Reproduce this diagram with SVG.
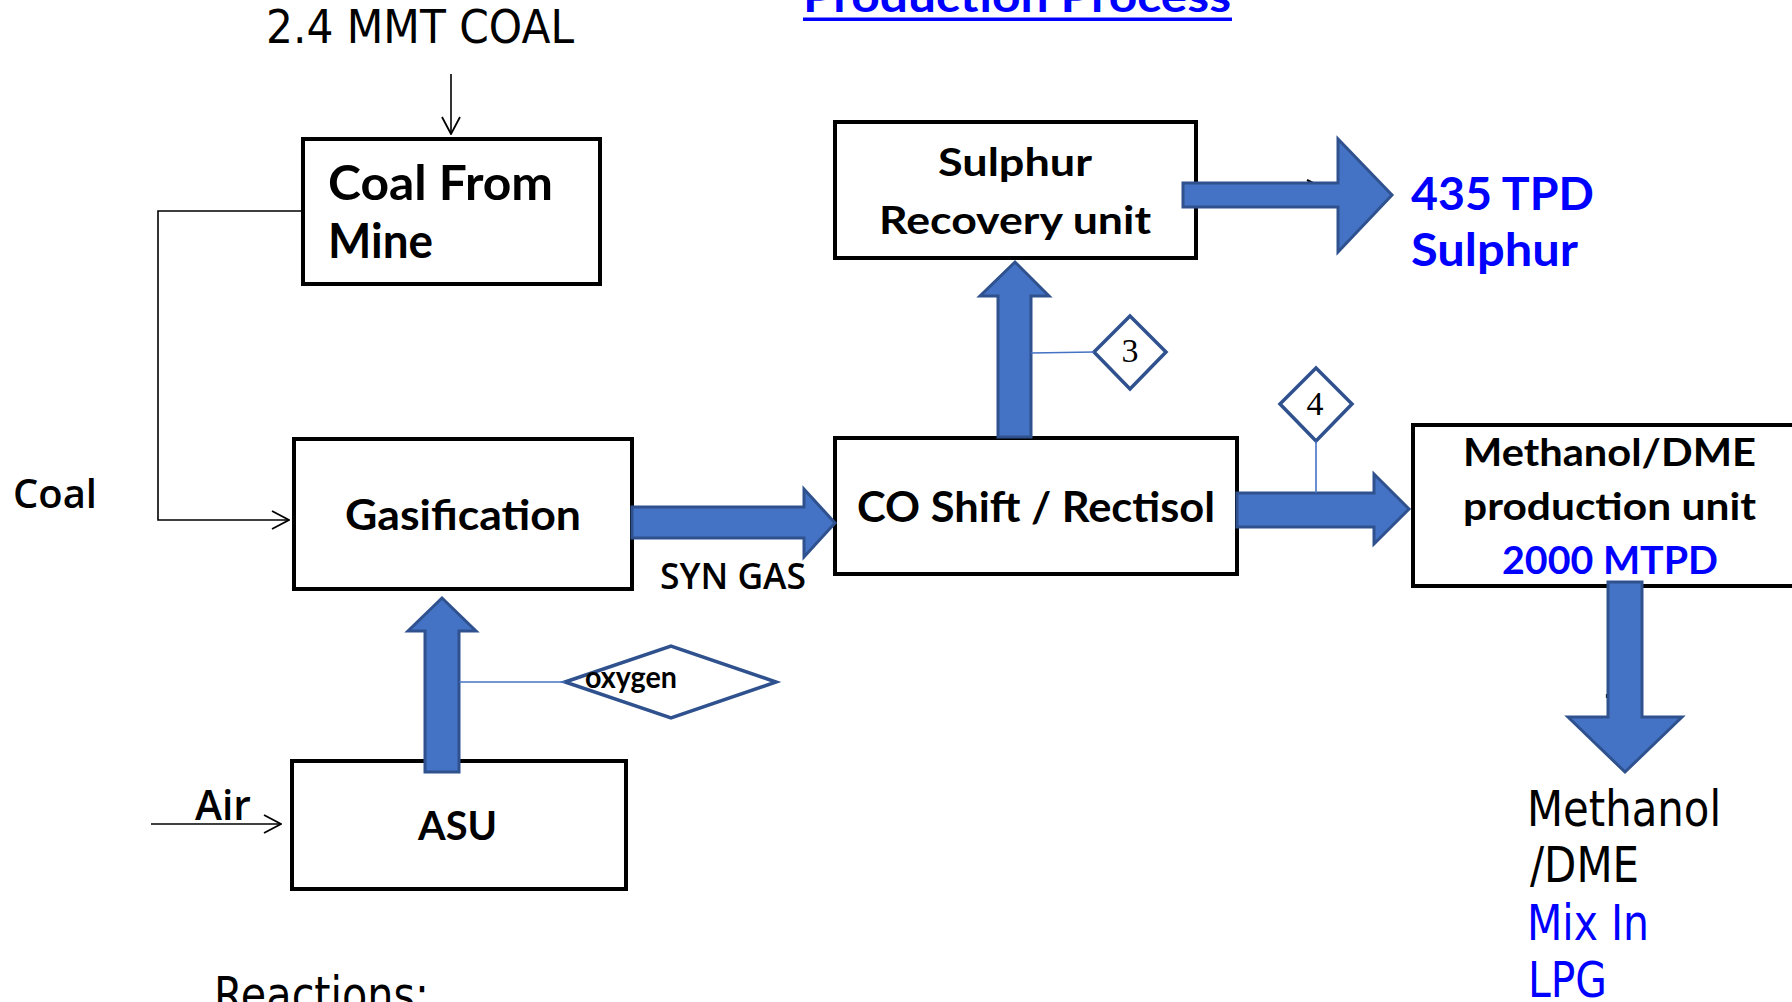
<svg xmlns="http://www.w3.org/2000/svg" width="1792" height="1002" viewBox="0 0 1792 1002">
<defs>
<style>
.box{fill:#fff;stroke:#000;stroke-width:4}
.b{font-family:Lato,"Open Sans","Liberation Sans",sans-serif;font-weight:700;fill:#000}
.r{font-family:"Open Sans",Lato,"Liberation Sans",sans-serif;font-weight:600;fill:#000}
.t{font-family:"DejaVu Sans","Liberation Sans",sans-serif;font-weight:400;fill:#000}
.blue{fill:#0000FF}
.num{font-family:"Liberation Serif",serif;font-size:34px;fill:#000;text-anchor:middle}
.blk{fill:#4472C4;stroke:#2F528F;stroke-width:3;stroke-linejoin:miter}
.dia{fill:#fff;stroke:#2F528F;stroke-width:3.5}
.thin{fill:none;stroke:#000;stroke-width:1.6}
.lead{fill:none;stroke:#4472C4;stroke-width:1.6}
.tick{fill:none;stroke:#000;stroke-width:2.2}
</style>
<marker id="open" viewBox="0 0 20 20" refX="19" refY="10" markerWidth="20" markerHeight="20" markerUnits="userSpaceOnUse" orient="auto">
<path d="M2 1 L19 10 L2 19" fill="none" stroke="#000" stroke-width="1.8"/>
</marker>
</defs>
<rect width="1792" height="1002" fill="#fff"/>

<g id="title">
<text class="b blue" x="803" y="12" font-size="44" textLength="428" lengthAdjust="spacingAndGlyphs">Production Process</text>
<rect x="803" y="17.5" width="429" height="3.5" fill="#0000FF"/>
</g>

<g id="coal-input-label">
<text class="t" x="266" y="43" font-size="46" textLength="308" lengthAdjust="spacingAndGlyphs">2.4 MMT COAL</text>
</g>

<g id="coal-from-mine">
<rect class="box" x="303" y="139" width="297" height="145"/>
<text class="b" x="328" y="200" font-size="48" textLength="225" lengthAdjust="spacingAndGlyphs">Coal From</text>
<text class="b" x="328" y="258" font-size="48" textLength="105" lengthAdjust="spacingAndGlyphs">Mine</text>
</g>

<g id="coal-label">
<text class="r" x="13" y="508" font-size="40" textLength="84" lengthAdjust="spacingAndGlyphs">Coal</text>
</g>

<g id="gasification">
<rect class="box" x="294" y="439" width="338" height="150"/>
<text class="b" x="345" y="530" font-size="42" textLength="236" lengthAdjust="spacingAndGlyphs">Gasification</text>
</g>

<g id="syn-gas-label">
<text class="r" x="660" y="589" font-size="36" textLength="146" lengthAdjust="spacingAndGlyphs">SYN GAS</text>
</g>

<g id="asu">
<rect class="box" x="292" y="761" width="334" height="128"/>
<text class="b" x="418" y="840" font-size="40" textLength="79" lengthAdjust="spacingAndGlyphs">ASU</text>
</g>

<g id="air-label">
<text class="r" x="195" y="820" font-size="41" textLength="56" lengthAdjust="spacingAndGlyphs">Air</text>
</g>

<g id="oxygen">
<polygon class="dia" points="565,682 671,646 776,682 671,718" stroke-width="4"/>
<text class="b" x="585" y="688" font-size="30" textLength="92" lengthAdjust="spacingAndGlyphs">oxygen</text>
</g>

<g id="co-shift">
<rect class="box" x="835" y="438" width="402" height="136"/>
<text class="b" x="857" y="522" font-size="42" textLength="358" lengthAdjust="spacingAndGlyphs">CO Shift / Rectisol</text>
</g>

<g id="sulphur-recovery">
<rect class="box" x="835" y="122" width="361" height="136"/>
<text class="b" x="938" y="176" font-size="39" textLength="154" lengthAdjust="spacingAndGlyphs">Sulphur</text>
<text class="b" x="879" y="234" font-size="39" textLength="272" lengthAdjust="spacingAndGlyphs">Recovery unit</text>
</g>

<g id="sulphur-output">
<text class="b blue" x="1411" y="210" font-size="45" textLength="183" lengthAdjust="spacingAndGlyphs">435 TPD</text>
<text class="b blue" x="1411" y="266" font-size="45" textLength="167" lengthAdjust="spacingAndGlyphs">Sulphur</text>
</g>

<g id="marker-3">
<polygon class="dia" points="1094,352 1130,316 1166,352 1130,389"/>
<text class="num" x="1130" y="362">3</text>
</g>

<g id="marker-4">
<polygon class="dia" points="1280,404 1316,368 1352,404 1316,441"/>
<text class="num" x="1315" y="415">4</text>
</g>

<g id="methanol-unit">
<rect class="box" x="1413" y="425" width="400" height="161"/>
<text class="b" x="1463" y="466" font-size="38" textLength="293" lengthAdjust="spacingAndGlyphs">Methanol/DME</text>
<text class="b" x="1463" y="520" font-size="38" textLength="293" lengthAdjust="spacingAndGlyphs">production unit</text>
<text class="b blue" x="1502" y="574" font-size="38" textLength="216" lengthAdjust="spacingAndGlyphs">2000 MTPD</text>
</g>

<g id="methanol-output">
<text class="t" x="1527" y="826" font-size="49" textLength="194" lengthAdjust="spacingAndGlyphs">Methanol</text>
<text class="t" x="1530" y="882" font-size="49" textLength="109" lengthAdjust="spacingAndGlyphs">/DME</text>
<text class="t blue" x="1527" y="940" font-size="49" textLength="122" lengthAdjust="spacingAndGlyphs">Mix In</text>
<text class="t blue" x="1528" y="997" font-size="49" textLength="79" lengthAdjust="spacingAndGlyphs">LPG</text>
</g>

<g id="reactions-label">
<text class="t" x="214" y="1012" font-size="49" textLength="215" lengthAdjust="spacingAndGlyphs">Reactions:</text>
</g>

<g id="connectors">
<path class="thin" d="M451 74 V134" marker-end="url(#open)"/>
<path class="thin" d="M303 211 H158 V520 H289" marker-end="url(#open)"/>
<path class="thin" d="M151 824 H281" marker-end="url(#open)"/>
<path class="tick" d="M1307 180 L1313 183"/>
<path class="tick" d="M1607 694 V698"/>
<polygon class="blk" points="632,507 804,507 804,489 835,523 804,557 804,538 632,538"/>
<polygon class="blk" points="425,772 425,631 408,631 442,598 476,631 459,631 459,772"/>
<polygon class="blk" points="998,437 998,296 980,296 1015,262 1049,296 1031,296 1031,437"/>
<polygon class="blk" points="1183,183 1338,183 1338,139 1392,195 1338,252 1338,207 1183,207"/>
<polygon class="blk" points="1237,493 1374,493 1374,474 1409,509 1374,544 1374,527 1237,527"/>
<polygon class="blk" points="1608,582 1642,582 1642,717 1682,717 1625,772 1568,717 1608,717"/>
<path class="lead" d="M459 682 H565"/>
<path class="lead" d="M1031 353 L1094 352"/>
<path class="lead" d="M1316 441 V493"/>
</g>
</svg>
